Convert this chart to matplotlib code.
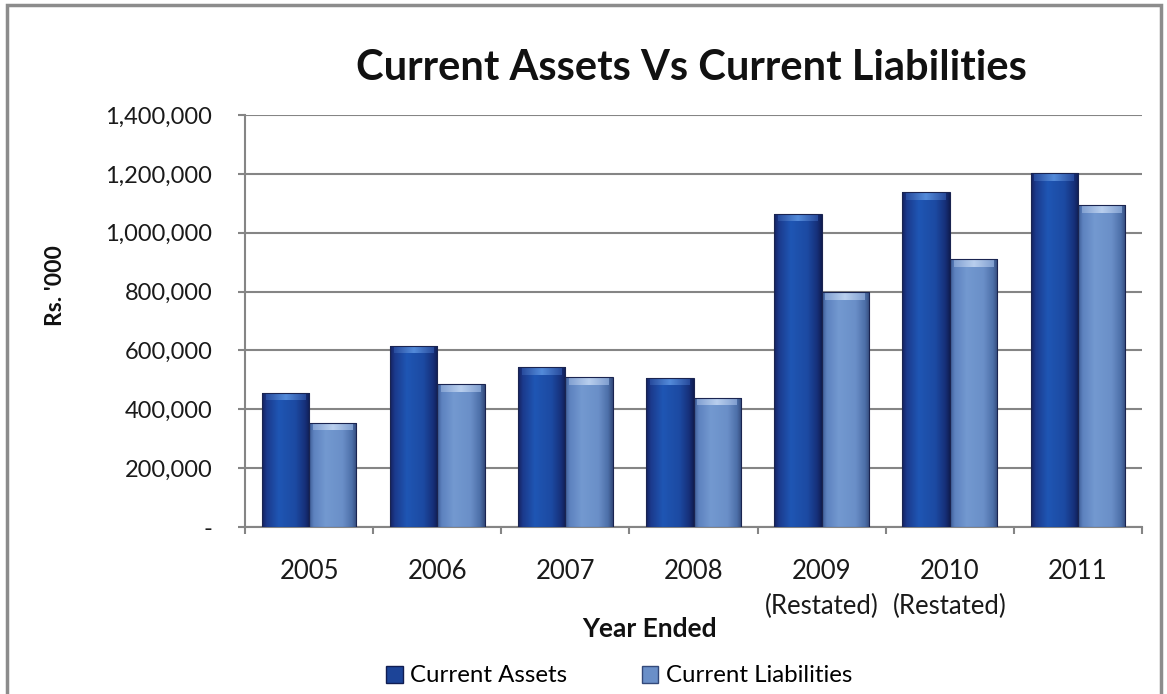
import numpy as np
import matplotlib
matplotlib.use("Agg")
import matplotlib.pyplot as plt
from matplotlib.colors import LinearSegmentedColormap
from matplotlib.patches import Rectangle, Patch
from matplotlib.ticker import FuncFormatter

plt.rcParams['font.family'] = ['Lato', 'DejaVu Sans']

# Data (Rs. '000)
years = ["2005", "2006", "2007", "2008", "2009\n(Restated)", "2010\n(Restated)", "2011"]
current_assets = [456000, 616000, 543000, 508000, 1065000, 1137000, 1203000]
current_liabilities = [354000, 485000, 510000, 440000, 798000, 910000, 1093000]
series_names = ["Current Assets", "Current Liabilities"]

W, H = 1167, 694
fig = plt.figure(figsize=(W / 100, H / 100), dpi=100)
fig.patch.set_facecolor("white")

ax = fig.add_axes([245 / W, 1 - 527 / H, (1142 - 245) / W, (527 - 115) / H])

n = len(years)
x = np.arange(n)
bw = 0.37

ax.set_xlim(-0.5, n - 0.5)
ax.set_ylim(0, 1400000)

# horizontal shading profiles for the bevelled bars
assets_cmap = LinearSegmentedColormap.from_list(
    "assets", [(0.0, "#15215e"), (0.10, "#1b3a8c"), (0.35, "#1f56b4"),
               (0.70, "#1c4aa2"), (0.90, "#16307a"), (1.0, "#101d52")])
liab_cmap = LinearSegmentedColormap.from_list(
    "liab", [(0.0, "#3c5a94"), (0.10, "#5d82bf"), (0.35, "#7399d0"),
             (0.70, "#6a8fc8"), (0.90, "#4d6fa8"), (1.0, "#33497a")])
assets_top = LinearSegmentedColormap.from_list(
    "assets_top", [(0.0, "#2a4ea0"), (0.5, "#5a92e0"), (1.0, "#2a4ea0")])
liab_top = LinearSegmentedColormap.from_list(
    "liab_top", [(0.0, "#86a4d4"), (0.5, "#c2d6f2"), (1.0, "#86a4d4")])

grad = np.linspace(0, 1, 256).reshape(1, -1)
bevel = 26000


def shaded_bars(xpos, values, body_cmap, top_cmap):
    bars = ax.bar(xpos, values, width=bw, color="none", edgecolor="none", zorder=3)
    for rect in bars:
        x0, x1 = rect.get_x(), rect.get_x() + rect.get_width()
        h = rect.get_height()
        im = ax.imshow(grad, cmap=body_cmap, extent=[x0, x1, 0, h],
                       aspect="auto", zorder=3, interpolation="bilinear")
        im.set_clip_path(rect)
        top = ax.imshow(grad, cmap=top_cmap, extent=[x0 + 0.03, x1 - 0.03, h - bevel, h],
                        aspect="auto", zorder=4, interpolation="bilinear", alpha=0.9)
        top.set_clip_path(rect)
        ax.add_patch(Rectangle((x0, 0), x1 - x0, h, fill=False,
                               edgecolor="#1a2450", linewidth=0.8, zorder=5))
    return bars


shaded_bars(x - bw / 2, current_assets, assets_cmap, assets_top)
shaded_bars(x + bw / 2, current_liabilities, liab_cmap, liab_top)
ax.set_xlim(-0.5, n - 0.5)
ax.set_ylim(0, 1400000)

# axes styling
for side in ["top", "right"]:
    ax.spines[side].set_visible(False)
for side in ["left", "bottom"]:
    ax.spines[side].set_color("#858585")
    ax.spines[side].set_linewidth(1.5)

ax.set_yticks(np.arange(0, 1400001, 200000))
ax.yaxis.set_major_formatter(FuncFormatter(lambda v, p: "-" if v == 0 else f"{int(v):,}"))
ax.grid(axis="y", color="#858585", linewidth=1.5, zorder=0)
ax.set_axisbelow(True)
ax.tick_params(axis="y", length=5, width=1.5, color="#858585", labelsize=17,
               labelcolor="#1a1a1a", pad=18.5)

ax.set_xticks(x)
ax.set_xticklabels(years, linespacing=1.5)
ax.set_xticks(np.arange(-0.5, n, 1.0), minor=True)
ax.tick_params(axis="x", which="major", length=0, labelsize=18.5, labelcolor="#1a1a1a", pad=23)
ax.tick_params(axis="x", which="minor", length=5, width=1.5, color="#858585")
for lbl in ax.get_xticklabels():
    lbl.set_verticalalignment("top")
    lbl.set_horizontalalignment("center")

# titles and axis labels
fig.text(691 / W, 1 - 68 / H, "Current Assets Vs Current Liabilities",
         ha="center", va="center", fontsize=30, fontweight="bold", color="#111111")
fig.text(56 / W, 1 - 286 / H, "Rs. '000", rotation=90, ha="center", va="center",
         fontsize=16.5, fontweight="bold", color="#111111")
fig.text(650 / W, 1 - 629 / H, "Year Ended", ha="center", va="center",
         fontsize=19, fontweight="bold", color="#111111")

handles = [Patch(facecolor="#1c4498", edgecolor="#101d52"),
           Patch(facecolor="#6a8fc8", edgecolor="#33497a")]
fig.legend(handles, series_names, loc="center", bbox_to_anchor=(619 / W, 1 - 676 / H),
           ncol=2, frameon=False, fontsize=17.3, handlelength=0.7, handleheight=0.7,
           handletextpad=0.3, columnspacing=3.1)

# outer chart frame
fig.add_artist(Rectangle((7 / W, -0.05), (1161 - 7) / W, 1 - 5 / H + 0.05,
                         transform=fig.transFigure, fill=False,
                         edgecolor="#8c8c8c", linewidth=2.5))

fig.savefig("out.png", dpi=100, facecolor="white")
